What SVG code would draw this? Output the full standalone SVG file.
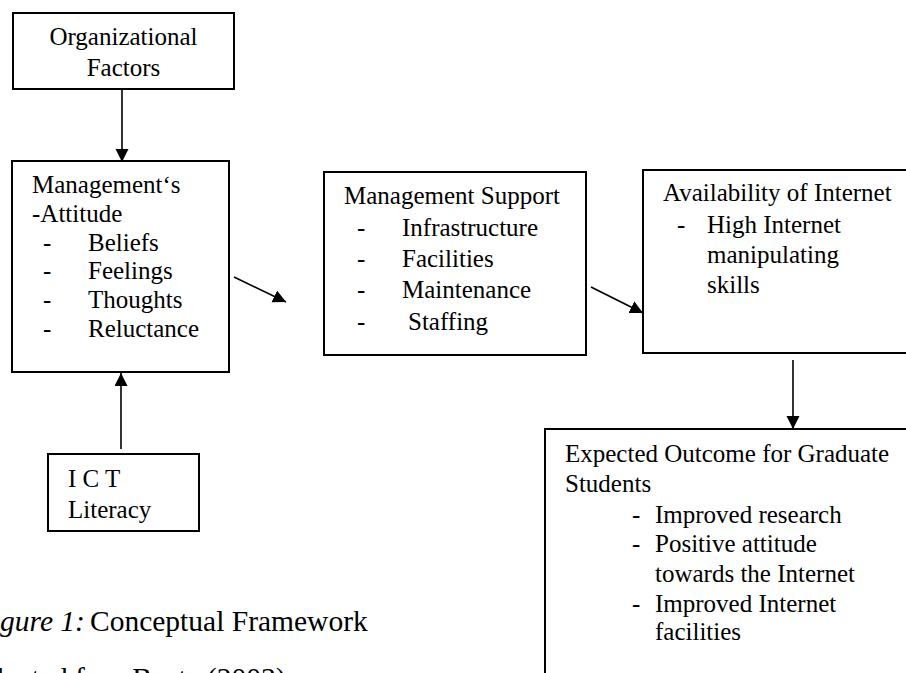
<svg xmlns="http://www.w3.org/2000/svg" width="906" height="673" viewBox="0 0 906 673">
<style>
text{font-family:"Liberation Serif","Times New Roman",serif;font-size:25px;fill:#000}
.box{fill:#fff;stroke:#000;stroke-width:2}
.conn line{stroke:#000;stroke-width:1.6;marker-end:url(#ah)}
.cap{font-size:29.5px}
.it{font-style:italic}
</style>
<defs>
<marker id="ah" markerUnits="userSpaceOnUse" markerWidth="14" markerHeight="14" refX="13" refY="6.5" orient="auto">
<path d="M0,0 L13,6.5 L0,13 Z" fill="#000"/>
</marker>
</defs>
<rect width="906" height="673" fill="#fff"/>
<g id="org">
<rect class="box" x="13" y="13" width="221" height="76"/>
<text x="123.5" y="45" text-anchor="middle">Organizational</text>
<text x="123.5" y="76" text-anchor="middle">Factors</text>
</g>
<g id="attitude">
<rect class="box" x="12" y="161" width="217" height="211"/>
<text x="32" y="193">Management‘s</text>
<text x="32" y="222">-Attitude</text>
<text x="43" y="251">-</text><text x="88" y="251">Beliefs</text>
<text x="43" y="279">-</text><text x="88" y="279">Feelings</text>
<text x="43" y="308">-</text><text x="88" y="308">Thoughts</text>
<text x="43" y="337">-</text><text x="88" y="337">Reluctance</text>
</g>
<g id="ict">
<rect class="box" x="48" y="454" width="151" height="77"/>
<text x="68" y="487">I C T</text>
<text x="68" y="518">Literacy</text>
</g>
<g id="support">
<rect class="box" x="324" y="172" width="262" height="183"/>
<text x="344" y="204">Management Support</text>
<text x="357" y="236">-</text><text x="402" y="236">Infrastructure</text>
<text x="357" y="267">-</text><text x="402" y="267">Facilities</text>
<text x="357" y="298">-</text><text x="402" y="298">Maintenance</text>
<text x="357" y="330">-</text><text x="408" y="330">Staffing</text>
</g>
<g id="availability">
<rect class="box" x="643" y="170" width="280" height="183"/>
<text x="663" y="201">Availability of Internet</text>
<text x="677" y="233">-</text><text x="707" y="233">High Internet</text>
<text x="707" y="263">manipulating</text>
<text x="707" y="293">skills</text>
</g>
<g id="outcome">
<rect class="box" x="545" y="429" width="380" height="270"/>
<text x="565" y="462">Expected Outcome for Graduate</text>
<text x="565" y="492">Students</text>
<text x="632" y="523">-</text><text x="655" y="523">Improved research</text>
<text x="632" y="552">-</text><text x="655" y="552">Positive attitude</text>
<text x="655" y="582">towards the Internet</text>
<text x="632" y="612">-</text><text x="655" y="612">Improved Internet</text>
<text x="655" y="640">facilities</text>
</g>
<g id="connectors" class="conn">
<line x1="122" y1="89" x2="122" y2="162"/>
<line x1="121" y1="449" x2="121" y2="373"/>
<line x1="234" y1="277" x2="286" y2="302"/>
<line x1="591" y1="287" x2="643" y2="313"/>
<line x1="793" y1="360" x2="793" y2="429"/>
</g>
<g id="caption">
<text class="cap" y="631"><tspan x="0" class="it">gure 1:</tspan><tspan x="90">Conceptual Framework</tspan></text>
<text class="cap" x="-11" y="688">dapted fromBecta (2003)</text>
</g>
</svg>
